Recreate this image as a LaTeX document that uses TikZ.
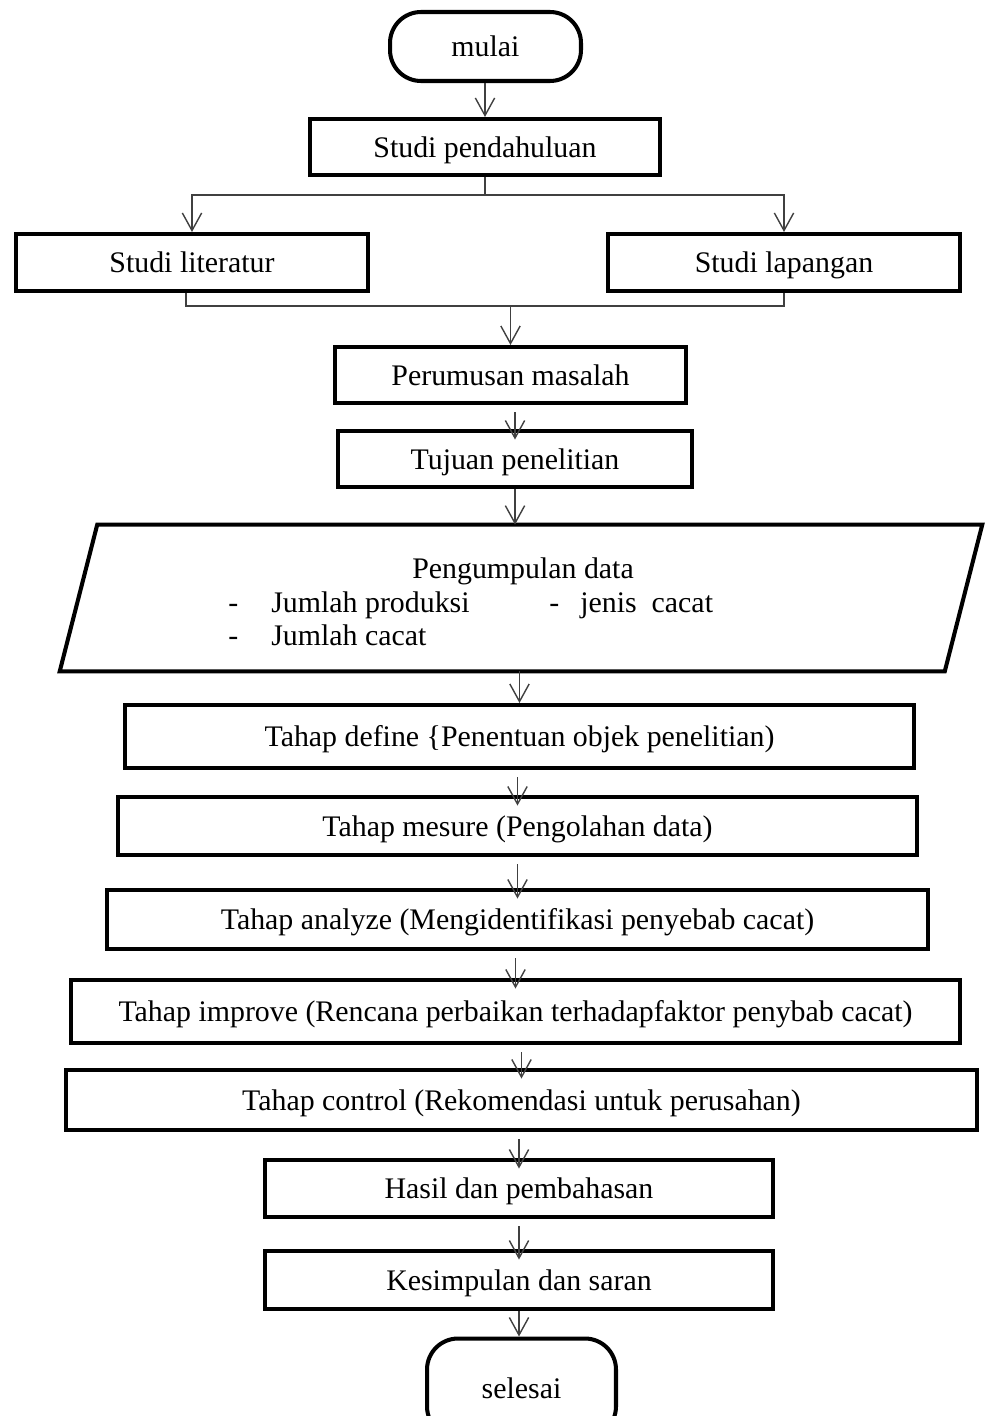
\documentclass[tikz,border=0pt]{standalone}
\usepackage{fontspec}
\setmainfont{Liberation Serif}
\usepackage{tikz}
\usetikzlibrary{arrows.meta}
\tikzset{
	block/.style={draw, line width=2.3pt, shape=rectangle, inner sep=0pt, text height=13pt, text depth=1.5pt, font=\fontsize{17}{20}\selectfont},
	terminal/.style={block, rounded corners=0.62cm, minimum height=1.38cm},
	wire/.style={draw=black!75, line width=0.8pt},
	flow/.style={wire, -{Straight Barb[length=10pt,width=11pt]}},
	flowin/.style={flow, shorten <=4pt, shorten >=-6pt},
	itemtext/.style={anchor=base west, inner sep=0pt, font=\fontsize{17}{20}\selectfont}
}

\begin{document}
\begin{tikzpicture}[x=0.02cm, y=-0.02cm]
				\useasboundingbox (0, 0) rectangle (985, 1416);
				% Paths, nodes and wires:
				\node[terminal, minimum width=3.82cm](mulai) at (485.5, 46.5){mulai};
				\node[block, minimum width=7cm, minimum height=1.12cm](pendahuluan) at (485, 147){Studi pendahuluan};
				\node[block, minimum width=7.04cm, minimum height=1.14cm](literatur) at (192, 262.5){Studi literatur};
				\node[block, minimum width=7.04cm, minimum height=1.14cm](lapangan) at (784, 262.5){Studi lapangan};
				\node[block, minimum width=7.02cm, minimum height=1.12cm](perumusan) at (510.5, 375){Perumusan masalah};
				\node[block, minimum width=7.08cm, minimum height=1.12cm](tujuan) at (515, 459){Tujuan penelitian};
				\node[shape=rectangle, minimum width=18.44cm, minimum height=2.92cm](data) at (521, 598){};
				\draw[line width=2.3pt] ([xshift=0.75cm]data.north west) -- (data.north east) -- ([xshift=-0.75cm]data.south east) -- (data.south west) -- cycle;
				\node[itemtext, anchor=base](pengumpulan) at (523, 578){Pengumpulan data};
				\node[itemtext](dashA) at (228, 612){-};
				\node[itemtext](produksi) at (271, 612){Jumlah produksi};
				\node[itemtext](dashB) at (549, 612){-};
				\node[itemtext](jenis) at (580, 612){jenis\ \ cacat};
				\node[itemtext](dashC) at (228, 645){-};
				\node[itemtext](cacat) at (271, 645){Jumlah cacat};
				\node[block, minimum width=15.78cm, minimum height=1.26cm](define) at (519.5, 736.5){Tahap define \{Penentuan objek penelitian)};
				\node[block, minimum width=15.98cm, minimum height=1.16cm](mesure) at (517.5, 826){Tahap mesure (Pengolahan data)};
				\node[block, minimum width=16.42cm, minimum height=1.18cm](analyze) at (517.5, 919.5){Tahap analyze (Mengidentifikasi penyebab cacat)};
				\node[block, minimum width=17.78cm, minimum height=1.26cm](improve) at (515.5, 1011.5){Tahap improve (Rencana perbaikan terhadapfaktor penybab cacat)};
				\node[block, minimum width=18.22cm, minimum height=1.2cm](control) at (521.5, 1100){Tahap control (Rekomendasi untuk perusahan)};
				\node[block, minimum width=10.16cm, minimum height=1.14cm](hasil) at (519, 1188.5){Hasil dan pembahasan};
				\node[block, minimum width=10.16cm, minimum height=1.16cm](kesimpulan) at (519, 1280){Kesimpulan dan saran};
				\node[terminal, minimum width=3.78cm, minimum height=1.98cm](selesai) at (521.5, 1388){selesai};
				\coordinate (cabang) at (485, 195);
				\coordinate (gabung) at (510.5, 306);
				\draw[flow] (mulai.south -| pendahuluan.north) -- (pendahuluan.north);
				\draw[wire] (pendahuluan.south) -- (cabang);
				\draw[flow] (cabang) -| (literatur.north);
				\draw[flow] (cabang) -| (lapangan.north);
				\draw[wire] ([xshift=-0.12cm]literatur.south) |- (gabung) -| (lapangan.south);
				\draw[flow] (gabung) -- (perumusan.north);
				\draw[flowin] (tujuan.north |- perumusan.south) -- (tujuan.north);
				\draw[flow] (tujuan.south) -- (tujuan.south |- data.north);
				\draw[flow] (define.north |- data.south) -- (define.north);
				\draw[flowin] (mesure.north |- define.south) -- (mesure.north);
				\draw[flowin] (analyze.north |- mesure.south) -- (analyze.north);
				\draw[flowin] (improve.north |- analyze.south) -- (improve.north);
				\draw[flowin] (control.north |- improve.south) -- (control.north);
				\draw[flowin] (hasil.north |- control.south) -- (hasil.north);
				\draw[flowin] (kesimpulan.north |- hasil.south) -- (kesimpulan.north);
				\draw[flow] (kesimpulan.south) -- (kesimpulan.south |- selesai.north);
			\end{tikzpicture}
\end{document}
